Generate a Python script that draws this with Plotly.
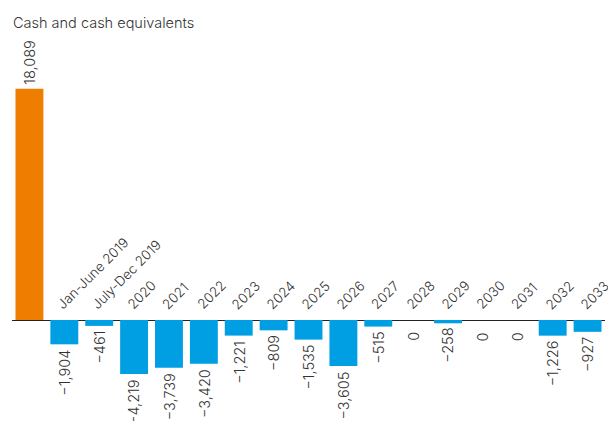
import plotly.graph_objects as go

# Cash position and yearly movements
categories = ["", "Jan-June 2019", "July-Dec 2019", "2020", "2021", "2022", "2023",
              "2024", "2025", "2026", "2027", "2028", "2029", "2030", "2031",
              "2032", "2033"]
values = [18089, -1904, -461, -4219, -3739, -3420, -1221, -809, -1535, -3605,
          -515, 0, -258, 0, 0, -1226, -927]

ORANGE = "#EF7D00"
BLUE = "#009FE3"
TEXT = "#333333"
FONT = "Inter"
LABEL_FONT = dict(family=FONT, size=14.5, color=TEXT, weight=300)
CAT_FONT = dict(family=FONT, size=13.5, color=TEXT, weight=300)

colors = [ORANGE] + [BLUE] * (len(values) - 1)
xs = list(range(len(values)))

fig = go.Figure(go.Bar(
    x=xs, y=values, marker=dict(color=colors, line=dict(width=0)),
    width=0.8, hoverinfo="skip",
))


def fmt(v):
    s = f"{abs(v):,}"
    return ("\u2212" + s) if v < 0 else s


annotations = []
for i, (cat, v) in enumerate(zip(categories, values)):
    # value labels, rotated, just outside the bar end
    if v > 0:
        annotations.append(dict(x=i, y=v, text=fmt(v), textangle=-90,
                                xanchor="center", yanchor="bottom", yshift=2,
                                showarrow=False, font=LABEL_FONT))
    else:
        annotations.append(dict(x=i, y=v, text=fmt(v), textangle=-90,
                                xanchor="center", yanchor="top",
                                yshift=-10 if v == 0 else -3,
                                showarrow=False, font=LABEL_FONT))
    # category labels above the baseline at 45 degrees
    if cat:
        annotations.append(dict(x=i, y=0, text=cat, textangle=-45,
                                xanchor="left", yanchor="bottom",
                                xshift=-13, yshift=5, showarrow=False,
                                font=CAT_FONT))

annotations.append(dict(xref="paper", yref="paper", x=0, y=1, xshift=-1,
                        yshift=-12, xanchor="left", yanchor="top",
                        text="Cash and cash equivalents", showarrow=False,
                        font=dict(family=FONT, size=14.5, color=TEXT, weight=300)))

fig.update_layout(
    width=608, height=421,
    margin=dict(l=12, r=3, t=0, b=0),
    paper_bgcolor="white", plot_bgcolor="white",
    showlegend=False,
    bargap=0.2,
    annotations=annotations,
    xaxis=dict(range=[-0.5, len(values) - 0.5], showticklabels=False,
               showgrid=False, zeroline=False, showline=False, ticks=""),
    yaxis=dict(range=[-7903, 25039], showticklabels=False, showgrid=False,
               zeroline=True, zerolinecolor="#222222", zerolinewidth=1,
               showline=False, ticks=""),
)

fig.write_html("out.html")
